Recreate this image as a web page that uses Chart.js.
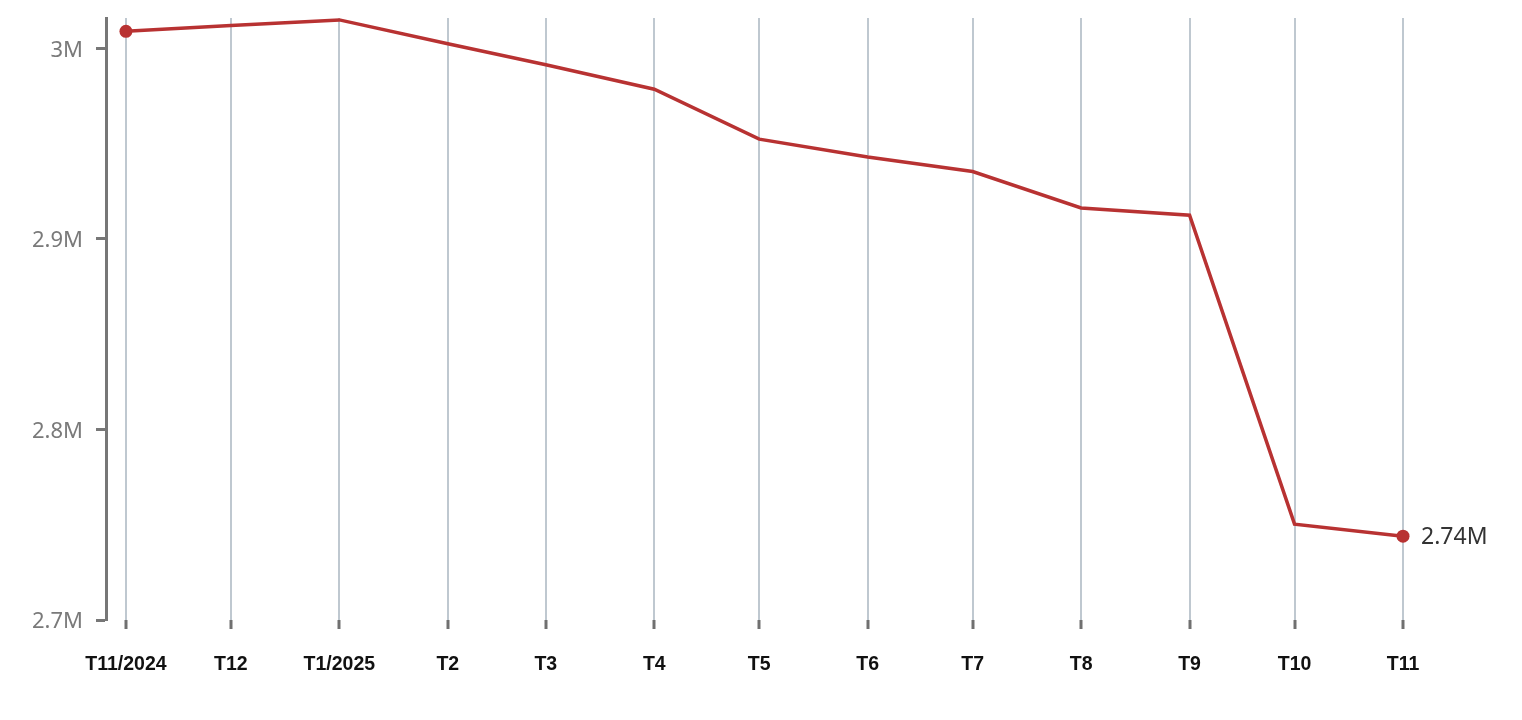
<!DOCTYPE html>
<html lang="vi">
<head>
    <meta charset="UTF-8">
    <title>Line chart T11/2024 - T11/2025</title>
    <script src="https://cdn.jsdelivr.net/npm/chart.js"></script>
    <style>
        html, body {
            margin: 0;
            padding: 0;
            background: #fff;
        }
        #wrap {
            width: 1522px;
            height: 720px;
        }
    </style>
</head>
<body>
    <div id="wrap"><canvas id="chart"></canvas></div>
    <script>
        // month starts, tick labels and values (millions)
        const months = ['2024-11-01', '2024-12-01', '2025-01-01', '2025-02-01', '2025-03-01', '2025-04-01',
            '2025-05-01', '2025-06-01', '2025-07-01', '2025-08-01', '2025-09-01', '2025-10-01', '2025-11-01'];
        const tickLabels = ['T11/2024', 'T12', 'T1/2025', 'T2', 'T3', 'T4', 'T5', 'T6', 'T7', 'T8', 'T9', 'T10', 'T11'];
        const values = [3.009, 3.012, 3.015, 3.0025, 2.9915, 2.9786, 2.9524, 2.943, 2.9354, 2.9163, 2.9125, 2.7503, 2.744];
        const yTicks = [2.7, 2.8, 2.9, 3.0];

        const days = months.map(m => Date.parse(m) / 86400000);
        const points = days.map((d, i) => ({ x: d, y: values[i] }));
        const lineColor = '#b83232';

        function fmtM(v) {
            return (Math.round(v * 100) / 100) + 'M';
        }

        // label next to the last point
        const endLabel = {
            id: 'endLabel',
            afterDatasetsDraw(chart) {
                const meta = chart.getDatasetMeta(0);
                const last = meta.data[meta.data.length - 1];
                const ctx = chart.ctx;
                ctx.save();
                ctx.font = '23px "Noto Sans", sans-serif';
                ctx.fillStyle = '#333';
                ctx.textAlign = 'left';
                ctx.textBaseline = 'middle';
                ctx.fillText(fmtM(values[values.length - 1]), last.x + 18, last.y + 1);
                ctx.restore();
            }
        };

        new Chart(document.getElementById('chart'), {
            type: 'line',
            data: {
                datasets: [{
                    data: points,
                    borderColor: lineColor,
                    backgroundColor: lineColor,
                    borderWidth: 3.5,
                    tension: 0,
                    clip: false,
                    pointRadius: ctx => (ctx.dataIndex === 0 || ctx.dataIndex === values.length - 1) ? 6.5 : 0,
                    pointHoverRadius: 0,
                    pointBorderWidth: 0
                }]
            },
            options: {
                responsive: true,
                maintainAspectRatio: false,
                animation: false,
                layout: {
                    padding: { top: 18, right: 119, bottom: 0, left: 0 }
                },
                plugins: {
                    legend: { display: false },
                    tooltip: { enabled: false }
                },
                scales: {
                    x: {
                        type: 'linear',
                        min: days[0] - 5.7,
                        max: days[days.length - 1],
                        afterBuildTicks: scale => {
                            scale.ticks = days.map(d => ({ value: d }));
                        },
                        afterFit: scale => { scale.height = 100; },
                        grid: {
                            color: '#bfc8d0',
                            lineWidth: 2,
                            tickColor: '#707070',
                            tickWidth: 3,
                            tickLength: 9
                        },
                        border: { display: false },
                        ticks: {
                            autoSkip: false,
                            maxRotation: 0,
                            padding: 24,
                            color: '#111',
                            font: { family: '"Liberation Sans", Arial, sans-serif', size: 19.5, weight: 'bold' },
                            callback: (v, i) => tickLabels[i]
                        }
                    },
                    y: {
                        min: 2.7,
                        max: 3.016,
                        afterBuildTicks: scale => {
                            scale.ticks = yTicks.map(v => ({ value: v }));
                        },
                        afterFit: scale => {
                            scale.width = 106;
                            scale.paddingTop = 0;
                            scale.paddingBottom = 0;
                        },
                        grid: {
                            drawOnChartArea: false,
                            tickColor: '#777',
                            tickWidth: 3,
                            tickLength: 10
                        },
                        border: { color: '#777', width: 3 },
                        ticks: {
                            padding: 13,
                            labelOffset: 2,
                            color: '#7a7a7a',
                            font: { family: '"Noto Sans", sans-serif', size: 22 },
                            callback: v => (Math.round(v * 10) / 10) + 'M'
                        }
                    }
                }
            },
            plugins: [endLabel]
        });
    </script>
</body>
</html>
